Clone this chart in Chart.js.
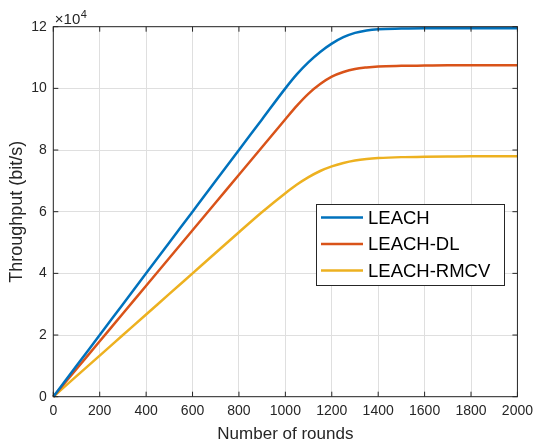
<!DOCTYPE html>
<html>
<head>
<meta charset="utf-8">
<script src="https://cdn.jsdelivr.net/npm/chart.js@4.4.1/dist/chart.umd.min.js"></script>
<style>
html,body{margin:0;padding:0;background:#fff;}
#wrap{width:539px;height:441px;position:relative;}
</style>
</head>
<body>
<div id="wrap"><canvas id="c" width="539" height="441"></canvas></div>
<script>
// ---- data (throughput in units of 1e4 bit/s) ----
const rounds = [0,100,200,300,400,500,600,700,800,900,1000,1050,1100,1150,1200,1250,1300,1350,1400,1500,1600,1700,1800,1900,2000];
const leach = [0,1,2,3,4,5,6,7,8,9,10,10.46,10.85,11.18,11.45,11.66,11.8,11.88,11.92,11.94,11.95,11.95,11.95,11.95,11.95];
const leachDL = [0,0.9,1.8,2.7,3.6,4.5,5.4,6.3,7.2,8.1,9.0,9.44,9.83,10.14,10.38,10.53,10.63,10.68,10.71,10.73,10.74,10.75,10.75,10.75,10.75];
const leachRMCV = [0,0.667,1.333,2.0,2.667,3.333,4.0,4.667,5.333,5.99,6.6,6.88,7.12,7.32,7.47,7.58,7.66,7.71,7.74,7.77,7.78,7.79,7.8,7.8,7.8];
const seriesNames = ['LEACH','LEACH-DL','LEACH-RMCV'];
const xTicks = [0,200,400,600,800,1000,1200,1400,1600,1800,2000];
const yTicks = [0,2,4,6,8,10,12];
const yExponentText = '\u00D710';
const yExponent = '4';

const colors = ['#0072BD','#D95319','#EDB120'];
const axisColor = '#262626';
const FONT = '"Liberation Sans", Arial, Helvetica, sans-serif';

const toPts = arr => rounds.map((r,i)=>({x:r, y:arr[i]*1e4}));

const boxTicks = {
  id:'boxTicks',
  afterDatasetsDraw(chart){
    const {ctx, chartArea:a, scales:{x,y}} = chart;
    ctx.save();
    ctx.strokeStyle = axisColor;
    ctx.lineWidth = 1;
    const L = 5;
    ctx.beginPath();
    xTicks.forEach(v=>{
      const p = x.getPixelForValue(v);
      ctx.moveTo(p,a.bottom); ctx.lineTo(p,a.bottom-L);
      ctx.moveTo(p,a.top); ctx.lineTo(p,a.top+L);
    });
    yTicks.forEach(v=>{
      const p = y.getPixelForValue(v*1e4);
      ctx.moveTo(a.left,p); ctx.lineTo(a.left+L,p);
      ctx.moveTo(a.right,p); ctx.lineTo(a.right-L,p);
    });
    ctx.stroke();
    ctx.strokeRect(a.left,a.top,a.right-a.left,a.bottom-a.top);
    // exponent label
    ctx.fillStyle = axisColor;
    ctx.textBaseline = 'alphabetic';
    ctx.textAlign = 'left';
    ctx.font = '15px ' + FONT;
    ctx.fillText(yExponentText, a.left+1.5, a.top-3);
    const w = ctx.measureText(yExponentText).width;
    ctx.font = '11px ' + FONT;
    ctx.fillText(yExponent, a.left+1.5+w+0.5, a.top-9);
    ctx.restore();
  },
  afterDraw(chart){
    const {ctx} = chart;
    const bx=316.5, by=204.5, bw=188, bh=81;
    ctx.save();
    ctx.fillStyle='#fff';
    ctx.fillRect(bx,by,bw,bh);
    ctx.strokeStyle='#262626';
    ctx.lineWidth=1;
    ctx.strokeRect(bx,by,bw,bh);
    ctx.font='18.5px '+FONT;
    ctx.textBaseline='middle';
    ctx.textAlign='left';
    chart.data.datasets.forEach((ds,i)=>{
      const yy = 217.5 + i*26.5;
      ctx.strokeStyle = ds.borderColor;
      ctx.lineWidth = 2.5;
      ctx.beginPath(); ctx.moveTo(321,yy); ctx.lineTo(363,yy); ctx.stroke();
      ctx.fillStyle='#000';
      ctx.fillText(ds.label, 368, yy+1);
    });
    ctx.restore();
  }
};

new Chart(document.getElementById('c'), {
  type:'line',
  data:{
    datasets:[
      {label:seriesNames[0], data:toPts(leach), borderColor:colors[0]},
      {label:seriesNames[1], data:toPts(leachDL), borderColor:colors[1]},
      {label:seriesNames[2], data:toPts(leachRMCV), borderColor:colors[2]}
    ].map(d=>Object.assign(d,{borderWidth:2.5, pointRadius:0, fill:false, cubicInterpolationMode:'monotone', clip:3}))
  },
  options:{
    responsive:false,
    animation:false,
    devicePixelRatio:1,
    layout:{padding:{left:0,right:18.7,top:26.7,bottom:0}},
    plugins:{legend:{display:false}, tooltip:{enabled:false}},
    scales:{
      x:{
        type:'linear', min:0, max:2000,
        afterBuildTicks(s){ s.ticks = xTicks.map(v=>({value:v})); },
        afterFit(s){ s.height = 44.3; },
        grid:{color:'#dfdfdf', drawTicks:false, lineWidth:1},
        border:{display:false},
        ticks:{padding:6, color:axisColor, font:{family:FONT, size:14}, maxRotation:0, autoSkip:false, callback:v=>String(v)},
        title:{display:true, text:'Number of rounds', color:axisColor, font:{family:FONT, size:17, lineHeight:0.8}, padding:{top:0,bottom:0}}
      },
      y:{
        type:'linear', min:0, max:120000,
        afterBuildTicks(s){ s.ticks = yTicks.map(v=>({value:v*1e4})); },
        afterFit(s){ s.width = 53.3; },
        grid:{color:'#dfdfdf', drawTicks:false, lineWidth:1},
        border:{display:false},
        ticks:{padding:6.6, color:axisColor, font:{family:FONT, size:14}, autoSkip:false, callback:v=>String(v/1e4)},
        title:{display:true, text:'Throughput (bit/s)', color:axisColor, font:{family:FONT, size:18, lineHeight:1}, padding:{top:8.5,bottom:0}}
      }
    }
  },
  plugins:[boxTicks]
});
</script>
</body>
</html>
